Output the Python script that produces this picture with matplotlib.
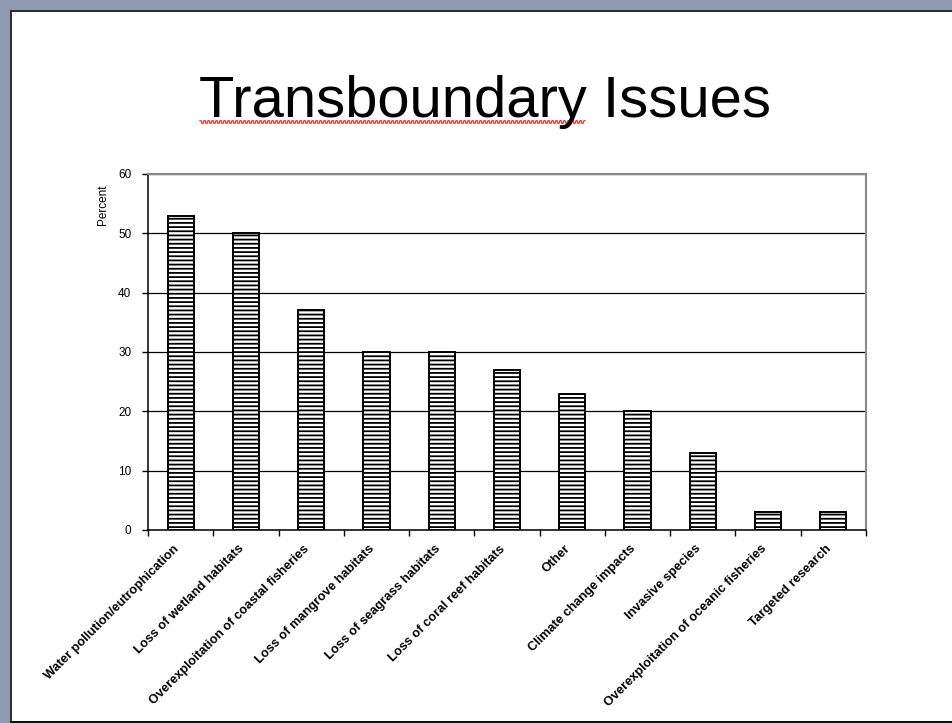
import numpy as np
import matplotlib
matplotlib.use("Agg")
import matplotlib.pyplot as plt
from matplotlib.patches import Rectangle
from matplotlib.lines import Line2D
from matplotlib.transforms import ScaledTranslation, blended_transform_factory

categories = [
    "Water pollution/eutrophication",
    "Loss of wetland habitats",
    "Overexploitation of coastal fisheries",
    "Loss of mangrove habitats",
    "Loss of seagrass habitats",
    "Loss of coral reef habitats",
    "Other",
    "Climate change impacts",
    "Invasive species",
    "Overexploitation of oceanic fisheries",
    "Targeted research",
]
percent = [53, 50, 37, 30, 30, 27, 23, 20, 13, 3, 3]
y_ticks = [0, 10, 20, 30, 40, 50, 60]

W, H = 953, 723
DPI = 100
plt.rcParams['font.family'] = ['Liberation Sans', 'DejaVu Sans']
plt.rcParams['hatch.linewidth'] = 1.3
plt.rcParams['hatch.color'] = 'black'

fig = plt.figure(figsize=(W / DPI, H / DPI), dpi=DPI, facecolor='white')

def fx(px):
    return px / W

def fy(py):
    return 1 - py / H

# slide frame decoration
band = '#8F99B2'
fig.add_artist(Rectangle((0, fy(10)), 1, 10 / H, transform=fig.transFigure,
                         facecolor=band, edgecolor='none', zorder=0))
fig.add_artist(Rectangle((0, 0), fx(10), 1, transform=fig.transFigure,
                         facecolor=band, edgecolor='none', zorder=0))
fig.add_artist(Rectangle((fx(10), fy(12)), 1, 2 / H, transform=fig.transFigure,
                         facecolor='#303030', edgecolor='none', zorder=1))
fig.add_artist(Rectangle((fx(10), 0), 2 / W, fy(10), transform=fig.transFigure,
                         facecolor='#303030', edgecolor='none', zorder=1))
fig.add_artist(Rectangle((fx(10), 0), 1, 2.5 / H, transform=fig.transFigure,
                         facecolor='#101010', edgecolor='none', zorder=1))

# title
fig.text(fx(485), fy(117), "Transboundary Issues", ha='center', va='baseline',
         fontsize=41.8, color='black')
# spell-check squiggle under the first word
xs = np.arange(200, 586, 1.0)
ys = 122 + 1.4 * np.where((xs // 2) % 2 == 0, -1.0, 1.0)
fig.add_artist(Line2D(fx(xs), fy(ys), transform=fig.transFigure,
                      color='#ff3030', lw=0.9))

# axes
left, right, top, bottom = 148, 866, 174, 530
ax = fig.add_axes([fx(left), fy(bottom), (right - left) / W, (bottom - top) / H])
x = np.arange(len(categories))
ax.bar(x, percent, width=0.4, facecolor='white', edgecolor='black',
       linewidth=1.4, hatch='----', zorder=3)

ax.set_xlim(-0.5, len(categories) - 0.5)
ax.set_ylim(0, 60)
ax.set_yticks(y_ticks)
ax.set_yticklabels([str(v) for v in y_ticks], fontsize=8.5)
ax.yaxis.grid(True, color='black', linewidth=0.9, zorder=1)
ax.set_axisbelow(True)

ax.set_xticks(np.arange(len(categories) + 1) - 0.5)
ax.set_xticklabels([])
# category labels, rotated, ending just below the axis under each bar
trans = blended_transform_factory(ax.transData, ax.transAxes) + \
    ScaledTranslation(-3.5 / DPI, -17 / DPI, fig.dpi_scale_trans)
for xi, name in zip(x, categories):
    ax.text(xi, 0, name, transform=trans, rotation=45, ha='right', va='center',
            rotation_mode='anchor', fontsize=9.2, fontweight='bold',
            clip_on=False)
ax.tick_params(axis='x', which='major', direction='out', length=4, width=1, color='black')
ax.tick_params(axis='y', direction='out', length=4, width=1, pad=8, color='black')

for s in ['left', 'bottom']:
    ax.spines[s].set_color('black')
    ax.spines[s].set_linewidth(1.1)
for s in ['top', 'right']:
    ax.spines[s].set_color('#8a8a8a')
    ax.spines[s].set_linewidth(1.5)

fig.text(fx(103), fy(205), "Percent", rotation=90, ha='center', va='center',
         fontsize=8.5)

fig.savefig('out.png', dpi=DPI, facecolor='white')
